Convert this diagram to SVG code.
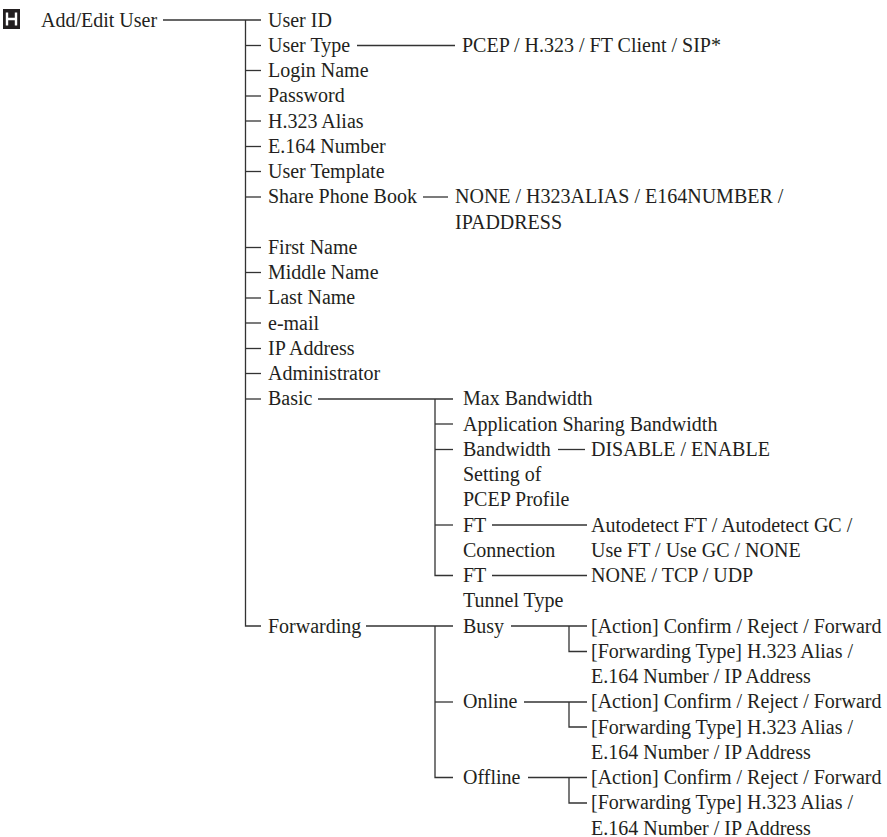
<svg xmlns="http://www.w3.org/2000/svg" width="887" height="837" viewBox="0 0 887 837">
<style>
text{font-family:"Liberation Serif","Times New Roman",Tinos,"DejaVu Serif",serif;font-size:20px;fill:#231f20}
.c line,.c path{stroke:#333;stroke-width:1.3;fill:none}
</style>
<rect width="887" height="837" fill="#fff"/>
<g id="icon">
<rect x="3" y="9" width="17" height="20" fill="#231f20"/>
<path d="M7 12.5V25.5M16 12.5V25.5M7 19H16" stroke="#fff" stroke-width="2.4" fill="none"/>
</g>
<g class="c" id="connectors">
<line x1="163" y1="20" x2="261" y2="20"/>
<path d="M245.5 20V626H261"/>
<line x1="245.5" y1="45.5" x2="261" y2="45.5"/>
<line x1="245.5" y1="70.5" x2="261" y2="70.5"/>
<line x1="245.5" y1="96" x2="261" y2="96"/>
<line x1="245.5" y1="121" x2="261" y2="121"/>
<line x1="245.5" y1="146.5" x2="261" y2="146.5"/>
<line x1="245.5" y1="171.5" x2="261" y2="171.5"/>
<line x1="245.5" y1="197" x2="261" y2="197"/>
<line x1="245.5" y1="247.5" x2="261" y2="247.5"/>
<line x1="245.5" y1="272.5" x2="261" y2="272.5"/>
<line x1="245.5" y1="298" x2="261" y2="298"/>
<line x1="245.5" y1="323" x2="261" y2="323"/>
<line x1="245.5" y1="348.5" x2="261" y2="348.5"/>
<line x1="245.5" y1="373.5" x2="261" y2="373.5"/>
<line x1="245.5" y1="399" x2="261" y2="399"/>
<line x1="357" y1="45.5" x2="455" y2="45.5"/>
<line x1="423" y1="197" x2="448" y2="197"/>
<line x1="318" y1="399" x2="453" y2="399"/>
<path d="M435 399V575.5H453"/>
<line x1="435" y1="424" x2="453" y2="424"/>
<line x1="435" y1="449.5" x2="453" y2="449.5"/>
<line x1="435" y1="525" x2="453" y2="525"/>
<line x1="558" y1="449.5" x2="585" y2="449.5"/>
<line x1="492" y1="525" x2="587" y2="525"/>
<line x1="492" y1="575.5" x2="587" y2="575.5"/>
<line x1="366" y1="626" x2="453" y2="626"/>
<path d="M435 626V777.5H453"/>
<line x1="435" y1="702" x2="453" y2="702"/>
<line x1="511" y1="626" x2="587" y2="626"/>
<path d="M569 626V651.5H587"/>
<line x1="524" y1="702" x2="587" y2="702"/>
<path d="M569 702V727H587"/>
<line x1="528" y1="777.5" x2="587" y2="777.5"/>
<path d="M569 777.5V803H587"/>
</g>
<g id="root"><text x="41" y="26.5">Add/Edit User</text></g>
<g id="level1">
<text x="268" y="26.5">User ID</text>
<text x="268" y="51.75">User Type</text>
<text x="268" y="77">Login Name</text>
<text x="268" y="102.25">Password</text>
<text x="268" y="127.5">H.323 Alias</text>
<text x="268" y="152.75">E.164 Number</text>
<text x="268" y="178">User Template</text>
<text x="268" y="203.25">Share Phone Book</text>
<text x="268" y="253.75">First Name</text>
<text x="268" y="279">Middle Name</text>
<text x="268" y="304.25">Last Name</text>
<text x="268" y="329.5">e-mail</text>
<text x="268" y="354.75">IP Address</text>
<text x="268" y="380">Administrator</text>
<text x="268" y="405.25">Basic</text>
<text x="268" y="632.5">Forwarding</text>
</g>
<g id="usertype-values"><text x="462" y="51.75">PCEP / H.323 / FT Client / SIP*</text></g>
<g id="phonebook-values">
<text x="455" y="203.25">NONE / H323ALIAS / E164NUMBER /</text>
<text x="455" y="228.5">IPADDRESS</text>
</g>
<g id="basic">
<text x="463" y="405.25">Max Bandwidth</text>
<text x="463" y="430.5">Application Sharing Bandwidth</text>
<text x="463" y="455.75">Bandwidth</text>
<text x="463" y="481">Setting of</text>
<text x="463" y="506.25">PCEP Profile</text>
<text x="463" y="531.5">FT</text>
<text x="463" y="556.75">Connection</text>
<text x="463" y="582">FT</text>
<text x="463" y="607.25">Tunnel Type</text>
</g>
<g id="basic-values">
<text x="591" y="455.75">DISABLE / ENABLE</text>
<text x="591" y="531.5">Autodetect FT / Autodetect GC /</text>
<text x="591" y="556.75">Use FT / Use GC / NONE</text>
<text x="591" y="582">NONE / TCP / UDP</text>
</g>
<g id="forwarding">
<text x="463" y="632.5">Busy</text>
<text x="463" y="708.25">Online</text>
<text x="463" y="784">Offline</text>
</g>
<g id="busy-values">
<text x="591" y="632.5">[Action] Confirm / Reject / Forward</text>
<text x="591" y="657.75">[Forwarding Type] H.323 Alias /</text>
<text x="591" y="683">E.164 Number / IP Address</text>
</g>
<g id="online-values">
<text x="591" y="708.25">[Action] Confirm / Reject / Forward</text>
<text x="591" y="733.5">[Forwarding Type] H.323 Alias /</text>
<text x="591" y="758.75">E.164 Number / IP Address</text>
</g>
<g id="offline-values">
<text x="591" y="784">[Action] Confirm / Reject / Forward</text>
<text x="591" y="809.25">[Forwarding Type] H.323 Alias /</text>
<text x="591" y="834.5">E.164 Number / IP Address</text>
</g>
</svg>
